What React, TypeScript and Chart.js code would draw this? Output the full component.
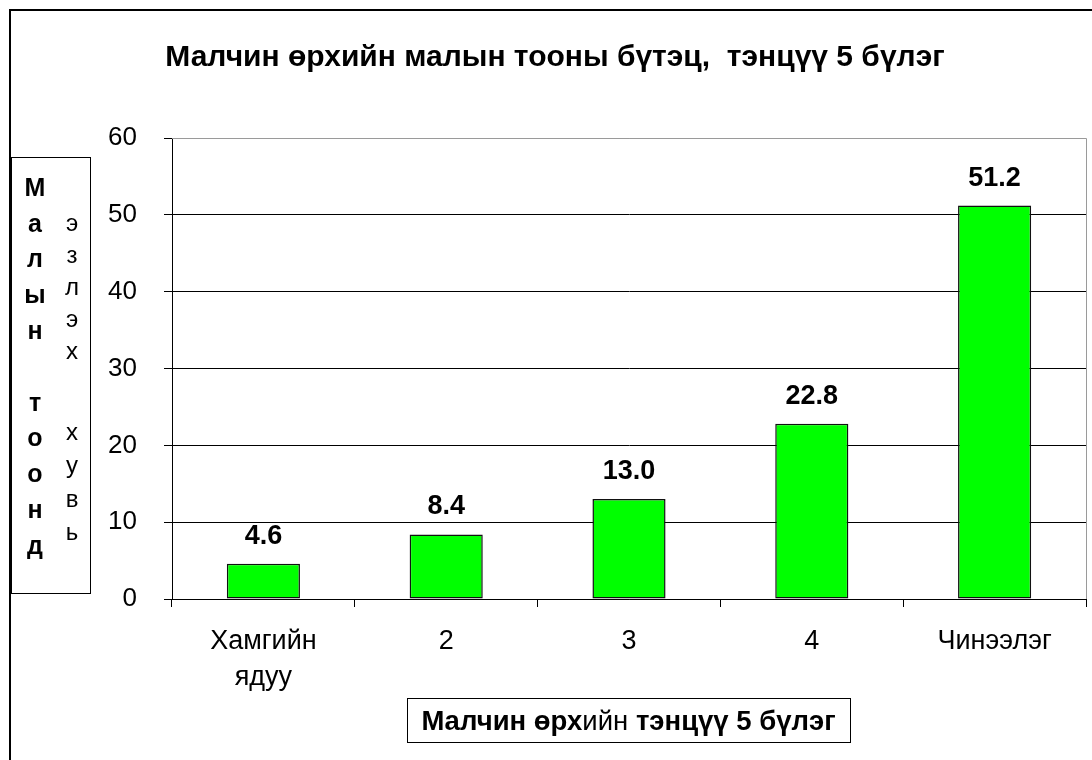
import React, { useEffect, useRef } from "react";
import { Chart, registerables } from "chart.js";

Chart.register(...registerables);

const categories: (string | string[])[] = [["Хамгийн", "ядуу"], "2", "3", "4", "Чинээлэг"];
const shares: number[] = [4.6, 8.4, 13.0, 22.8, 51.2];
const shareLabels: string[] = ["4.6", "8.4", "13.0", "22.8", "51.2"];
const yTicks: number[] = [0, 10, 20, 30, 40, 50, 60];

const titleText = "Малчин өрхийн малын тооны бүтэц,  тэнцүү 5 бүлэг";
const yTitleBold = ["М", "а", "л", "ы", "н", "", "т", "о", "о", "н", "д"];
const yTitleNormal1 = ["э", "з", "л", "э", "х"];
const yTitleNormal2 = ["х", "у", "в", "ь"];
const xTitleParts: [string, boolean][] = [
  ["Малчин өрх", true],
  ["ийн", false],
  [" тэнцүү 5 бүлэг", true],
];

const FONT = "'Liberation Sans', Arial, sans-serif";

const decorPlugin = {
  id: "decor",
  afterDraw(chart: any) {
    const ctx = chart.ctx as CanvasRenderingContext2D;
    const ca = chart.chartArea;
    ctx.save();
    // outer border
    ctx.strokeStyle = "#000";
    ctx.lineWidth = 2;
    ctx.strokeRect(10, 10, 1200, 900);

    // plot area gray border top/right
    ctx.strokeStyle = "#9a9a9a";
    ctx.lineWidth = 1;
    ctx.beginPath();
    ctx.moveTo(ca.left, ca.top + 0.5);
    ctx.lineTo(ca.right + 0.5, ca.top + 0.5);
    ctx.lineTo(ca.right + 0.5, ca.bottom);
    ctx.stroke();

    // title
    ctx.fillStyle = "#000";
    ctx.font = `bold 30px ${FONT}`;
    ctx.textAlign = "center";
    ctx.textBaseline = "middle";
    ctx.fillText(titleText, 555, 58);

    // data labels
    const meta = chart.getDatasetMeta(0);
    ctx.font = `bold 27px ${FONT}`;
    ctx.textBaseline = "alphabetic";
    meta.data.forEach((bar: any, i: number) => {
      ctx.fillText(shareLabels[i], bar.x, bar.y - 20);
    });

    // y title box
    ctx.strokeStyle = "#000";
    ctx.lineWidth = 1;
    ctx.strokeRect(11.5, 157.5, 79, 436);
    ctx.textBaseline = "middle";
    ctx.font = `bold 25px ${FONT}`;
    yTitleBold.forEach((ch, i) => {
      if (ch) ctx.fillText(ch, 35, 189 + i * 35.8);
    });
    ctx.font = `24px ${FONT}`;
    yTitleNormal1.forEach((ch, i) => ctx.fillText(ch, 72, 224 + i * 32.2));
    yTitleNormal2.forEach((ch, i) => ctx.fillText(ch, 72, 433 + i * 33.5));

    // x title box
    ctx.strokeRect(407.5, 698.5, 443, 44);
    let total = 0;
    xTitleParts.forEach(([t, b]) => {
      ctx.font = `${b ? "bold " : ""}27.5px ${FONT}`;
      total += ctx.measureText(t).width;
    });
    let x = 628.5 - total / 2;
    ctx.textAlign = "left";
    xTitleParts.forEach(([t, b]) => {
      ctx.font = `${b ? "bold " : ""}27.5px ${FONT}`;
      ctx.fillText(t, x, 722);
      x += ctx.measureText(t).width;
    });
    ctx.restore();
  },
};

export default function App() {
  const ref = useRef<HTMLCanvasElement>(null);
  useEffect(() => {
    if (!ref.current) return;
    const chart = new Chart(ref.current, {
      type: "bar",
      data: {
        labels: categories,
        datasets: [
          {
            data: shares,
            backgroundColor: "#00ff00",
            borderColor: "#111",
            borderWidth: 1.5,
            borderSkipped: false,
            barPercentage: 0.4,
            categoryPercentage: 1,
          },
        ],
      },
      options: {
        responsive: false,
        animation: false,
        layout: { padding: { left: 0, top: 138, right: 6, bottom: 0 } },
        plugins: { legend: { display: false }, tooltip: { enabled: false } },
        scales: {
          x: {
            grid: {
              offset: true,
              drawOnChartArea: false,
              drawTicks: true,
              tickLength: 8,
              color: "#000",
            },
            border: { color: "#000", width: 1 },
            ticks: {
              color: "#000",
              font: { family: FONT, size: 27, lineHeight: 1.33 },
              padding: 17,
              maxRotation: 0,
              autoSkip: false,
            },
            afterFit(scale: any) {
              scale.height = 161;
            },
          },
          y: {
            min: 0,
            max: 60,
            afterBuildTicks(scale: any) {
              scale.ticks = yTicks.map((v) => ({ value: v }));
            },
            grid: {
              color: (c: any) => (c.tick && c.tick.value === 60 ? "#9a9a9a" : "#000"),
              tickColor: "#000",
              tickLength: 8,
            },
            border: { color: "#000", width: 1 },
            ticks: {
              color: "#000",
              font: { family: FONT, size: 26 },
              padding: 27,
            },
            afterFit(scale: any) {
              scale.width = 172;
            },
          },
        },
      },
      plugins: [decorPlugin],
    });
    return () => chart.destroy();
  }, []);
  return (
    <canvas
      ref={ref}
      width={1092}
      height={760}
      style={{ position: "absolute", left: 0, top: 0, background: "#fff" }}
    />
  );
}
